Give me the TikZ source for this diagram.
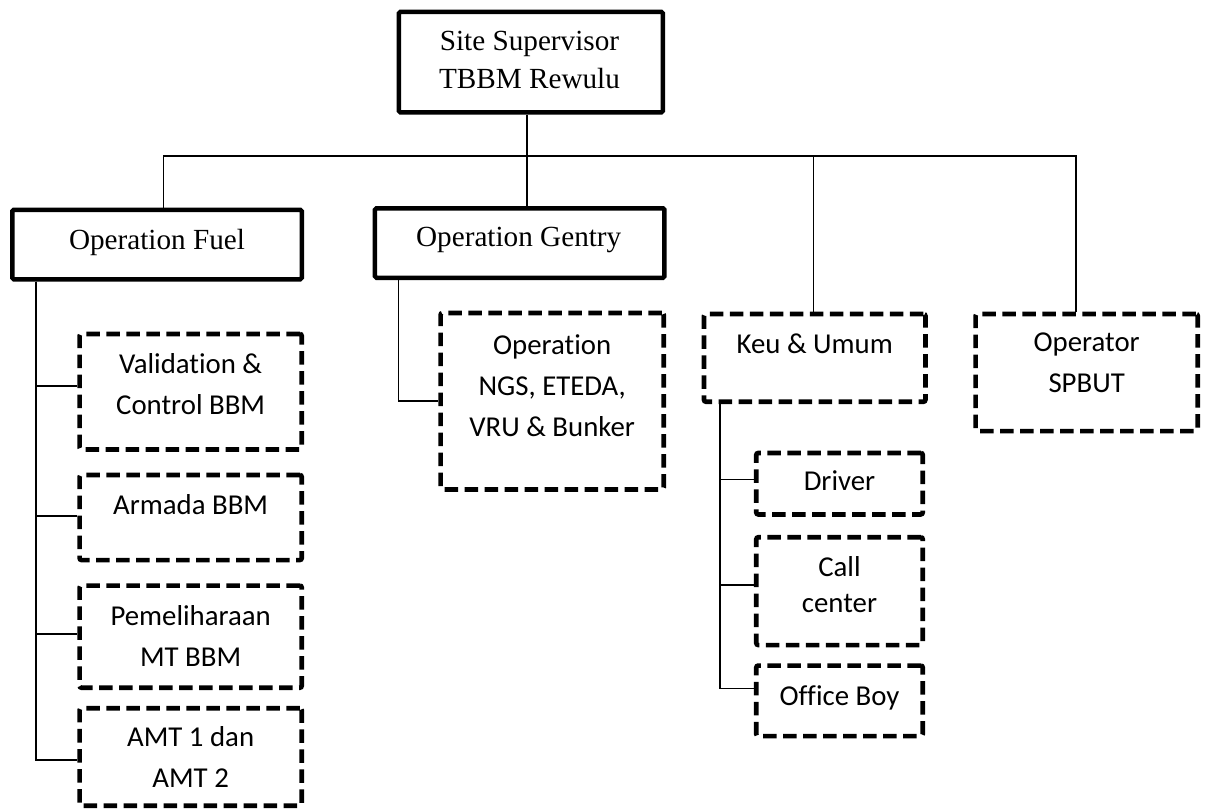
\documentclass[tikz,border=0pt]{standalone}
\usepackage{fontspec}
\setmainfont{Liberation Serif}
\newfontfamily\calfont[Ligatures=NoCommon]{Carlito}
\newcommand\tl[1]{\begin{tabular}[t]{@{}c@{}}#1\end{tabular}}
\tikzset{
  solidbox/.style={draw, line width=4.5pt, rounded corners=1.5pt, inner sep=0pt},
  dbox/.style={draw, line width=4.6pt, dash pattern=on 13.5pt off 6.5pt, rounded corners=2pt, inner sep=0pt},
  conn/.style={line width=1.6pt},
  ttxt/.style={anchor=base, inner sep=0pt, font=\fontsize{29.2}{37.6}\selectfont},
  ctxt/.style={anchor=base, inner sep=0pt, font=\calfont\fontsize{28.8}{41}\selectfont},
}
\begin{document}
\begin{tikzpicture}[x=1pt,y=-1pt]
\useasboundingbox[fill=white] (0,0) rectangle (1209,811);

% boxes
\node[solidbox, minimum width=263.8pt, minimum height=100.7pt] (sup) at (530.85,62.1) {};
\node[solidbox, minimum width=289.5pt, minimum height=69.5pt] (fuel) at (157,244.5) {};
\node[solidbox, minimum width=289.5pt, minimum height=69.5pt] (gentry) at (519.7,243) {};

\node[dbox, minimum width=222.2pt, minimum height=115.5pt] (val) at (190.65,391.7) {};
\node[dbox, minimum width=222.2pt, minimum height=85.1pt] (arm) at (190.65,517.5) {};
\node[dbox, minimum width=222.2pt, minimum height=102.2pt] (pem) at (190.65,636.65) {};
\node[dbox, minimum width=222.2pt, minimum height=97.5pt] (amt) at (190.65,757) {};
\node[dbox, minimum width=223.2pt, minimum height=176.5pt] (ngs) at (552.15,401.2) {};
\node[dbox, minimum width=221.5pt, minimum height=87.8pt] (keu) at (814.7,357.85) {};
\node[dbox, minimum width=222.2pt, minimum height=117.1pt] (opr) at (1086.65,372.5) {};
\node[dbox, minimum width=166.5pt, minimum height=61.5pt] (drv) at (839.5,483.7) {};
\node[dbox, minimum width=166.5pt, minimum height=107.8pt] (call) at (839.5,591.15) {};
\node[dbox, minimum width=166.5pt, minimum height=70.5pt] (boy) at (839.5,700.8) {};

% texts
\node[ttxt] (tsup) at (529.5,50.7) {\tl{Site Supervisor\\TBBM Rewulu}};
\node[ttxt] (tfuel) at (157,249.3) {Operation Fuel};
\node[ttxt] (tgentry) at (518.7,246.7) {Operation Gentry};
\node[ctxt] (tval) at (190.65,373.3) {\tl{Validation \&\\Control BBM}};
\node[ctxt] (tarm) at (190.65,514) {Armada BBM};
\node[ctxt] (tpem) at (190.65,625.7) {\tl{Pemeliharaan\\MT BBM}};
\node[ctxt] (tamt) at (190.65,746) {\tl{AMT 1 dan\\AMT 2}};
\node[ctxt] (tngs) at (552.15,354) {\tl{Operation\\NGS, ETEDA,\\VRU \& Bunker}};
\node[ctxt] (tkeu) at (814.7,353.3) {Keu \& Umum};
\node[ctxt] (topr) at (1086.65,351.7) {\tl{Operator\\SPBUT}};
\node[ctxt] (tdrv) at (839.5,490.7) {Driver};
\node[ctxt, font=\calfont\fontsize{28.8}{36.3}\selectfont] (tcall) at (839.5,576) {\tl{Call\\center}};
\node[ctxt] (tboy) at (839.5,705) {Office Boy};

% bus and connectors
\coordinate (bus1) at (163.3,155.7);
\coordinate (bus2) at (527,155.7);
\coordinate (bus3) at (813.3,155.7);
\coordinate (bus4) at (1075.7,155.7);
\draw[conn] (bus1 |- fuel.north) -- (bus1) -- (bus4) -- (bus4 |- opr.north);
\draw[conn] (sup.south -| bus2) -- (bus2 |- gentry.north);
\draw[conn] (bus3) -- (bus3 |- keu.north);

\coordinate (fstem) at (36,281.5);
\draw[conn] (fstem) |- ([yshift=-3pt]amt.west);
\draw[conn] (fstem) |- ([yshift=5.7pt]val.west);
\draw[conn] (fstem) |- ([yshift=1.5pt]arm.west);
\draw[conn] (fstem) |- ([yshift=2.4pt]pem.west);

\coordinate (gstem) at (398.3,280);
\draw[conn] (gstem) |- (ngs.west);

\coordinate (kstem) at (720,404);
\draw[conn] (kstem) |- ([yshift=12.5pt]boy.west);
\draw[conn] (kstem) |- ([yshift=4.4pt]drv.west);
\draw[conn] (kstem) |- ([yshift=6.2pt]call.west);
\end{tikzpicture}
\end{document}
